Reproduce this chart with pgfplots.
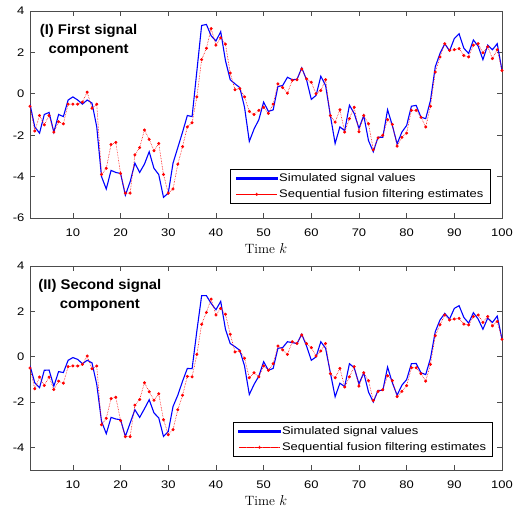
\documentclass[border=0pt]{standalone}
\usepackage{fontspec}
\usepackage{pgfplots}
\usepackage{pgfplotstable}
\pgfplotsset{compat=1.18}
% the reference text is a little stretched sideways
\newfontfamily\arial[FakeStretch=1.18]{Liberation Sans}
\newfontfamily\arialt[FakeStretch=1.06]{Liberation Sans}

% first signal component: k, simulated, estimate
\pgfplotstableread{
k sim est
1 -0.5 -0.6
2 -1.6 -1.8
3 -1.9 -1.05
4 -1.0 -1.5
5 -0.9 -1.05
6 -1.85 -1.85
7 -1.0 -1.35
8 -1.1 -1.45
9 -0.3 -0.5
10 -0.15 -0.5
11 -0.3 -0.5
12 -0.5 -0.4
13 -0.3 0.08
14 -0.45 -0.7
15 -1.6 -0.5
16 -4.0 -3.9
17 -4.6 -3.6
18 -3.7 -2.45
19 -3.8 -2.35
20 -3.85 -3.85
21 -4.9 -4.8
22 -4.25 -4.8
23 -3.35 -2.95
24 -3.8 -2.6
25 -3.4 -1.75
26 -2.8 -2.2
27 -3.6 -2.75
28 -3.9 -2.4
29 -5.0 -3.9
30 -4.8 -4.8
31 -3.35 -4.6
32 -2.6 -3.4
33 -1.85 -2.55
34 -1.05 -1.6
35 -1.1 -1.4
36 1.1 -0.15
37 3.3 1.65
38 3.35 2.2
39 2.8 3.15
40 2.55 2.35
41 3.0 2.7
42 1.6 2.4
43 0.68 1.0
44 0.48 0.2
45 0.3 0.25
46 -0.65 -0.15
47 -2.3 -0.85
48 -1.7 -1.0
49 -1.25 -0.8
50 -0.4 -0.65
51 -0.85 -0.95
52 -0.78 -0.5
53 0.35 0.48
54 0.4 0.3
55 0.8 0.03
56 0.68 0.65
57 0.7 0.68
58 1.25 1.2
59 0.68 0.72
60 -0.27 0.56
61 -0.08 0.0
62 0.85 0.16
63 0.4 0.68
64 -1.05 -1.05
65 -2.4 -1.37
66 -1.6 -0.77
67 -1.78 -1.85
68 -0.55 -1.2
69 -0.95 -0.65
70 -1.67 -1.83
71 -1.05 -1.05
72 -2.26 -1.45
73 -2.8 -2.7
74 -2.1 -2.13
75 -2.1 -2.0
76 -0.77 -1.25
77 -1.53 -1.48
78 -2.42 -2.53
79 -1.85 -2.1
80 -1.53 -1.9
81 -0.6 -0.8
82 -0.56 -0.8
83 -1.13 -1.13
84 -1.2 -1.6
85 -0.32 -0.6
86 1.3 1.05
87 1.95 1.78
88 2.42 2.42
89 2.07 2.1
90 2.67 2.13
91 2.9 2.18
92 2.2 1.85
93 1.95 1.78
94 2.6 2.35
95 2.3 2.42
96 1.65 1.98
97 2.35 2.27
98 2.13 1.7
99 2.42 2.13
100 1.13 1.13
}\first

% second signal component
\pgfplotstableread{
k sim est
1 -0.4 -0.5
2 -1.15 -1.42
3 -1.37 -0.9
4 -0.6 -1.27
5 -0.59 -0.9
6 -1.3 -1.45
7 -0.66 -1.08
8 -0.7 -1.17
9 -0.16 -0.44
10 -0.04 -0.41
11 -0.12 -0.41
12 -0.31 -0.34
13 -0.16 0.03
14 -0.27 -0.53
15 -1.22 -0.41
16 -2.85 -3.0
17 -3.4 -2.72
18 -2.68 -1.85
19 -2.75 -1.79
20 -2.78 -2.82
21 -3.52 -3.53
22 -2.93 -3.53
23 -2.34 -2.14
24 -2.68 -1.89
25 -2.3 -1.15
26 -1.9 -1.55
27 -2.48 -1.92
28 -2.7 -1.64
29 -3.52 -2.78
30 -3.3 -3.44
31 -2.2 -3.22
32 -1.7 -2.34
33 -1.08 -1.7
34 -0.52 -0.87
35 -0.53 -0.89
36 1.14 0.1
37 2.69 1.43
38 2.69 1.95
39 2.35 2.54
40 2.07 1.84
41 2.44 2.13
42 1.21 1.87
43 0.58 0.99
44 0.44 0.21
45 0.28 0.25
46 -0.41 -0.07
47 -1.67 -0.93
48 -1.22 -0.71
49 -0.86 -0.89
50 -0.22 -0.41
51 -0.6 -0.6
52 -0.52 -0.31
53 0.37 0.47
54 0.4 0.3
55 0.66 0.1
56 0.62 0.66
57 0.58 0.58
58 0.99 0.96
59 0.47 0.58
60 -0.16 0.4
61 -0.01 0.03
62 0.66 0.25
63 0.37 0.58
64 -0.71 -0.75
65 -1.77 -0.93
66 -1.17 -0.52
67 -1.32 -1.34
68 -0.31 -0.89
69 -0.49 -0.44
70 -1.2 -1.3
71 -0.71 -0.71
72 -1.56 -1.06
73 -2.0 -1.93
74 -1.49 -1.53
75 -1.49 -1.46
76 -0.46 -0.84
77 -1.15 -1.06
78 -1.7 -1.76
79 -1.26 -1.53
80 -1.01 -1.28
81 -0.31 -0.49
82 -0.3 -0.49
83 -0.71 -0.75
84 -0.79 -1.08
85 -0.07 -0.34
86 1.1 0.92
87 1.62 1.41
88 1.91 1.84
89 1.66 1.62
90 2.13 1.66
91 2.25 1.69
92 1.73 1.44
93 1.48 1.4
94 1.94 1.77
95 1.66 1.84
96 1.21 1.51
97 1.7 1.77
98 1.51 1.36
99 1.79 1.55
100 0.77 0.77
}\second

\pgfplotsset{
  sig/.style={
    scale only axis, width=472pt,
    xmin=1, xmax=100, xtick={10,20,...,100},
    tick align=inside, major tick length=5pt,
    axis line style={black!70, line width=0.6pt}, tick style={black!70, line width=0.6pt},
    tick label style={font=\arial\fontsize{11}{13}\selectfont},
    xticklabel style={yshift=-7pt},
    yticklabel style={xshift=-2pt},
    /pgf/number format/assume math mode=true,
    xlabel={Time $k$},
    xlabel style={font=\fontsize{13.5}{15}\selectfont,
      at={(axis description cs:0.5,0)}, anchor=base, yshift=-36pt},
    legend cell align=left,
    legend style={draw=black, line width=0.6pt, fill=white,
      font=\arial\fontsize{11}{13}\selectfont,
      inner xsep=5pt, inner ysep=3pt, row sep=3.5pt,
      nodes={inner xsep=1.5pt, inner ysep=1.5pt}},
  },
  % legend samples are filled shapes: their colour survived in every run
  simline/.style={blue, line width=1.1pt, mark=none,
    legend image code/.code={\fill[fill=blue] (0pt,-0.55pt) rectangle (41pt,0.55pt);}},
  estline/.style={red, densely dotted, line width=0.6pt, mark=*, mark size=1.2pt, mark options={solid, fill=red, draw=red},
    legend image code/.code={
      \foreach \i in {0,...,25} {\fill[fill=red] ({1.6pt*\i},-0.3pt) rectangle ++(0.6pt,0.6pt);}
      \fill[fill=red] (20.5pt,0pt) circle[radius=1.3pt];}},
}

\begin{document}
\begin{tikzpicture}
\useasboundingbox (-30pt,-40pt) rectangle (486pt,470pt);

\begin{axis}[sig, at={(0pt,252pt)}, height=207pt,
  ymin=-6, ymax=4, ytick={-6,-4,...,4},
  legend style={at={(0.975,0.068)}, anchor=south east}]
  \addplot[simline] table[x=k, y=sim] {\first};
  \addlegendentry{Simulated signal values}
  \addplot[estline] table[x=k, y=est] {\first};
  \addlegendentry{Sequential fusion filtering estimates}
  \node[font=\arialt\bfseries\fontsize{14}{19}\selectfont, align=center]
    at (rel axis cs:0.124,0.857) {(I) First signal\\component};
\end{axis}

\begin{axis}[sig, at={(0pt,0pt)}, height=204pt,
  ymin=-5, ymax=4, ytick={-4,-2,...,4},
  legend style={at={(0.981,0.064)}, anchor=south east}]
  \addplot[simline] table[x=k, y=sim] {\second};
  \addlegendentry{Simulated signal values}
  \addplot[estline] table[x=k, y=est] {\second};
  \addlegendentry{Sequential fusion filtering estimates}
  \node[font=\arialt\bfseries\fontsize{14}{19}\selectfont, align=center]
    at (rel axis cs:0.148,0.858) {(II) Second signal\\component};
\end{axis}
\end{tikzpicture}
\end{document}
